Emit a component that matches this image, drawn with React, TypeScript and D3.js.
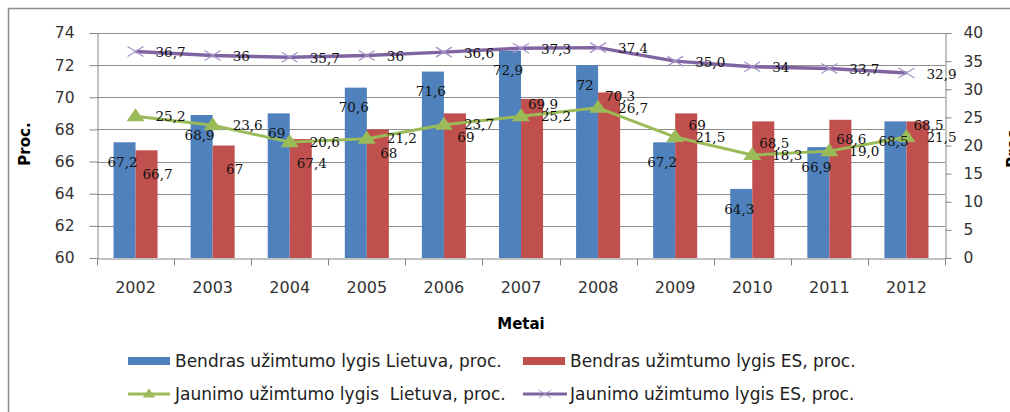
import React, { useEffect, useRef } from 'react'
import * as d3 from 'd3'

const years = ['2002', '2003', '2004', '2005', '2006', '2007', '2008', '2009', '2010', '2011', '2012']
const totalLT = [67.2, 68.9, 69, 70.6, 71.6, 72.9, 72, 67.2, 64.3, 66.9, 68.5]
const totalES = [66.7, 67, 67.4, 68, 69, 69.9, 70.3, 69, 68.5, 68.6, 68.5]
const youthLT = [25.2, 23.6, 20.6, 21.2, 23.7, 25.2, 26.7, 21.5, 18.3, 19.0, 21.5]
const youthES = [36.7, 36, 35.7, 36, 36.6, 37.3, 37.4, 35.0, 34, 33.7, 32.9]
// the chart prints 35,0 but 36 and 34, so the labels are kept as text
const youthESLabels = ['36,7', '36', '35,7', '36', '36,6', '37,3', '37,4', '35,0', '34', '33,7', '32,9']

const leftTicks = [60, 62, 64, 66, 68, 70, 72, 74]
const rightTicks = [0, 5, 10, 15, 20, 25, 30, 35, 40]

const legendLabels = [
  'Bendras užimtumo lygis Lietuva, proc.',
  'Bendras užimtumo lygis ES, proc.',
  'Jaunimo užimtumo lygis  Lietuva, proc.',
  'Jaunimo užimtumo lygis ES, proc.',
]

const BLUE = '#4F81BD'
const RED = '#C0504D'
const GREEN = '#9BBB59'
const PURPLE = '#8064A2'
const AXIS = '#868686'

const comma = (v: number) => String(v).replace('.', ',')

const triangle = 'M0,-8L9,5L-9,5Z'
const cross = 'M-8,-5L8,5M-8,5L8,-5'

export default function App() {
  const svgRef = useRef<SVGSVGElement>(null)

  useEffect(() => {
    const svg = d3.select(svgRef.current)
    svg.selectAll('*').remove()

    const left = 97
    const right = 945
    const top = 33
    const bottom = 258

    const x = d3.scaleBand().domain(years).range([left, right])
    const xSub = d3.scaleBand().domain(['lt', 'es']).range([0, x.bandwidth()]).paddingOuter(0.75)
    const yL = d3.scaleLinear().domain([60, 74]).range([bottom, top])
    const yR = d3.scaleLinear().domain([0, 40]).range([bottom, top])
    const cx = (i: number) => (x(years[i]) as number) + x.bandwidth() / 2

    // outer frame
    svg.append('rect')
      .attr('x', 8.5).attr('y', 8.5)
      .attr('width', 1200).attr('height', 600)
      .attr('fill', '#fff')
      .attr('stroke', '#8c8c8c')
      .attr('stroke-width', 1.5)

    // gridlines
    svg.append('g')
      .selectAll('line')
      .data(leftTicks.filter(t => t !== 60))
      .join('line')
        .attr('x1', left).attr('x2', right)
        .attr('y1', d => Math.round(yL(d)) + 0.5)
        .attr('y2', d => Math.round(yL(d)) + 0.5)
        .attr('stroke', '#8e8e8e')
        .attr('stroke-width', 1)

    // bars
    const bars = svg.append('g')
    bars.selectAll('.lt')
      .data(totalLT)
      .join('rect')
        .attr('x', (d, i) => (x(years[i]) as number) + (xSub('lt') as number))
        .attr('y', d => yL(d))
        .attr('width', xSub.bandwidth())
        .attr('height', d => bottom - yL(d))
        .attr('fill', BLUE)
    bars.selectAll('.es')
      .data(totalES)
      .join('rect')
        .attr('x', (d, i) => (x(years[i]) as number) + (xSub('es') as number))
        .attr('y', d => yL(d))
        .attr('width', xSub.bandwidth())
        .attr('height', d => bottom - yL(d))
        .attr('fill', RED)

    // left axis
    const leftAxis = svg.append('g')
      .attr('transform', `translate(${left + 0.5},0)`)
      .call(d3.axisLeft(yL).tickValues(leftTicks).tickSize(8).tickSizeOuter(0).tickPadding(15))
    leftAxis.selectAll('path, line').attr('stroke', AXIS)
    leftAxis.selectAll('text')
      .attr('font-family', 'DejaVu Sans')
      .attr('font-size', 15.5)
      .attr('fill', '#333')

    // right axis
    const rightAxis = svg.append('g')
      .attr('transform', `translate(${right + 0.5},0)`)
      .call(d3.axisRight(yR).tickValues(rightTicks).tickSize(6).tickSizeOuter(0).tickPadding(12))
    rightAxis.selectAll('path, line').attr('stroke', AXIS)
    rightAxis.selectAll('text')
      .attr('font-family', 'DejaVu Sans')
      .attr('font-size', 15.5)
      .attr('fill', '#333')

    // bottom axis: line, ticks on the band edges, year labels
    const bottomAxis = svg.append('g')
      .attr('transform', `translate(0,${bottom + 0.5})`)
      .call(d3.axisBottom(x).tickSize(0).tickSizeOuter(0))
    bottomAxis.select('.domain').attr('stroke', AXIS)
    bottomAxis.selectAll('text')
      .attr('y', 29)
      .attr('dy', '0.35em')
      .attr('font-family', 'DejaVu Sans')
      .attr('font-size', 16)
      .attr('fill', '#333')
    bottomAxis.selectAll('.edge')
      .data([...years.map(y => x(y) as number), right])
      .join('line')
        .attr('x1', d => Math.round(d) + 0.5).attr('x2', d => Math.round(d) + 0.5)
        .attr('y1', 0).attr('y2', 7)
        .attr('stroke', AXIS)

    // lines
    const lineES = d3.line<number>().x((d, i) => cx(i)).y(d => yR(d))
    svg.append('path')
      .attr('d', lineES(youthES))
      .attr('fill', 'none')
      .attr('stroke', PURPLE)
      .attr('stroke-width', 3.5)
      .attr('stroke-linejoin', 'round')
    svg.append('g')
      .selectAll('path')
      .data(youthES)
      .join('path')
        .attr('transform', (d, i) => `translate(${cx(i)},${yR(d)})`)
        .attr('d', cross)
        .attr('stroke', '#a493c9')
        .attr('stroke-width', 1.2)
        .attr('fill', 'none')

    const lineLT = d3.line<number>().x((d, i) => cx(i)).y(d => yR(d))
    svg.append('path')
      .attr('d', lineLT(youthLT))
      .attr('fill', 'none')
      .attr('stroke', GREEN)
      .attr('stroke-width', 3)
      .attr('stroke-linejoin', 'round')
    svg.append('g')
      .selectAll('path')
      .data(youthLT)
      .join('path')
        .attr('transform', (d, i) => `translate(${cx(i)},${yR(d)})`)
        .attr('d', triangle)
        .attr('fill', GREEN)

    // data labels
    const labels = svg.append('g')
      .attr('font-family', 'DejaVu Serif')
      .attr('font-size', 13.5)
      .attr('fill', '#111')
    labels.selectAll('.lbl-lt')
      .data(totalLT)
      .join('text')
        .attr('x', (d, i) => (x(years[i]) as number) + (xSub('lt') as number) + xSub.bandwidth() / 2 - 2)
        .attr('y', d => yL(d) + 20)
        .attr('dy', '0.35em')
        .attr('text-anchor', 'middle')
        .text(d => comma(d))
    // red labels sit inside the bar, but step above the green label when they would collide
    const redLabelY = (d: number, i: number) => {
      const y = yL(d) + 24
      const g = yR(youthLT[i])
      return Math.abs(y - g) < 12 ? g - 12 : y
    }
    labels.selectAll('.lbl-es')
      .data(totalES)
      .join('text')
        .attr('x', (d, i) => (x(years[i]) as number) + (xSub('es') as number) + xSub.bandwidth())
        .attr('y', (d, i) => redLabelY(d, i))
        .attr('dy', '0.35em')
        .attr('text-anchor', 'middle')
        .text(d => comma(d))
    labels.selectAll('.lbl-ylt')
      .data(youthLT)
      .join('text')
        .attr('x', (d, i) => cx(i) + 20)
        .attr('y', d => yR(d))
        .attr('dy', '0.35em')
        .text(d => d.toFixed(1).replace('.', ','))
    labels.selectAll('.lbl-yes')
      .data(youthES)
      .join('text')
        .attr('x', (d, i) => cx(i) + 20)
        .attr('y', d => yR(d) + 1)
        .attr('dy', '0.35em')
        .text((d, i) => youthESLabels[i])

    // axis titles
    svg.append('text')
      .attr('transform', 'translate(25,144) rotate(-90)')
      .attr('text-anchor', 'middle')
      .attr('dy', '0.35em')
      .attr('font-family', 'DejaVu Sans')
      .attr('font-weight', 'bold')
      .attr('font-size', 15)
      .text('Proc.')
    svg.append('text')
      .attr('transform', 'translate(1013,146) rotate(-90)')
      .attr('text-anchor', 'middle')
      .attr('dy', '0.35em')
      .attr('font-family', 'DejaVu Sans')
      .attr('font-weight', 'bold')
      .attr('font-size', 15)
      .text('Proc.')
    svg.append('text')
      .attr('x', (left + right) / 2)
      .attr('y', 324)
      .attr('dy', '0.35em')
      .attr('text-anchor', 'middle')
      .attr('font-family', 'DejaVu Sans')
      .attr('font-weight', 'bold')
      .attr('font-size', 15)
      .text('Metai')

    // legend
    const colX = [128, 523]
    const rowY = [361, 394]
    const legend = svg.append('g')
    legendLabels.forEach((label, i) => {
      const g = legend.append('g')
        .attr('transform', `translate(${colX[i % 2]},${rowY[Math.floor(i / 2)]})`)
      if (i < 2) {
        g.append('rect')
          .attr('x', 0).attr('y', -4)
          .attr('width', 42).attr('height', 8)
          .attr('fill', i === 0 ? BLUE : RED)
      } else if (i === 2) {
        g.append('line').attr('x1', 0).attr('x2', 42).attr('stroke', GREEN).attr('stroke-width', 3)
        g.append('path').attr('transform', 'translate(21,0) scale(0.7)').attr('d', triangle).attr('fill', GREEN)
      } else {
        g.append('line').attr('x1', 0).attr('x2', 44).attr('stroke', PURPLE).attr('stroke-width', 3)
        g.append('path').attr('transform', 'translate(22,0) scale(0.8)').attr('d', cross)
          .attr('stroke', '#a493c9').attr('stroke-width', 1.2).attr('fill', 'none')
      }
      g.append('text')
        .attr('x', 47)
        .attr('dy', '0.35em')
        .attr('font-family', 'DejaVu Sans')
        .attr('font-size', 17)
        .attr('fill', '#222')
        .style('white-space', 'pre')
        .text(label)
    })
  }, [])

  return (
    <svg
      ref={svgRef}
      width={1010}
      height={412}
      style={{ position: 'absolute', left: 0, top: 0, background: '#fff' }}
    />
  )
}
